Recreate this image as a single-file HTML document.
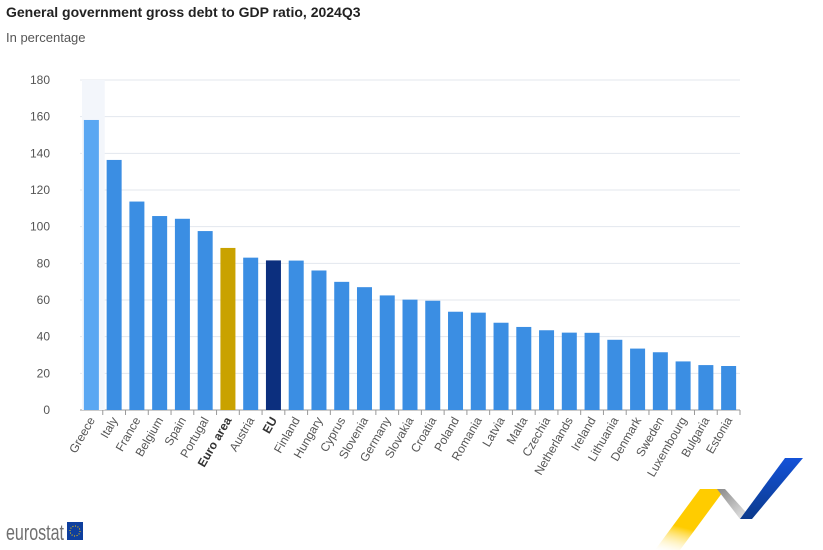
<!DOCTYPE html>
<html><head><meta charset="utf-8"><style>
body{margin:0;width:823px;height:550px;background:#fff;overflow:hidden;font-family:"Liberation Sans",sans-serif}
svg{position:absolute;left:0;top:0}
</style></head><body>
<svg width="823" height="550">
<defs><linearGradient id="yg" x1="0" y1="1" x2="0.3" y2="0"><stop offset="0" stop-color="#fff" stop-opacity="0.2"/><stop offset="0.45" stop-color="#ffcc00"/></linearGradient>
<linearGradient id="gg" x1="0" y1="0" x2="1" y2="1"><stop offset="0" stop-color="#888"/><stop offset="1" stop-color="#f0f0f0"/></linearGradient>
<linearGradient id="bg" x1="0" y1="1" x2="0" y2="0"><stop offset="0" stop-color="#0b3a8c"/><stop offset="1" stop-color="#1452d8"/></linearGradient></defs>
<text x="6" y="17" font-size="14" font-weight="bold" fill="#222">General government gross debt to GDP ratio, 2024Q3</text>
<text x="6" y="42" font-size="13" fill="#555">In percentage</text>
<g id="grid"></g><g id="bars"></g><g id="xl"></g>
<g>
<text x="6" y="540" font-size="22" fill="#707070" textLength="58" lengthAdjust="spacingAndGlyphs">eurostat</text>
<rect x="67" y="522" width="16" height="18" fill="#0e3f9e"/>
<circle cx="75" cy="531" r="5" fill="none" stroke="#ffcc00" stroke-width="1" stroke-dasharray="1 1.6"/>
</g>
<g>
<polygon points="700,489 725,489 680,550 655,550" fill="url(#yg)"/>
<polygon points="717,489 725,489 752,519 740,519" fill="url(#gg)"/>
<polygon points="740,519 752,519 803,458 785,458" fill="url(#bg)"/>
</g>
</svg>
<script>
const categories=["Greece","Italy","France","Belgium","Spain","Portugal","Euro area","Austria","EU","Finland","Hungary","Cyprus","Slovenia","Germany","Slovakia","Croatia","Poland","Romania","Latvia","Malta","Czechia","Netherlands","Ireland","Lithuania","Denmark","Sweden","Luxembourg","Bulgaria","Estonia"];
const values=[158.2,136.4,113.7,105.8,104.3,97.6,88.4,83.1,81.6,81.5,76.1,69.9,67.0,62.5,60.2,59.6,53.6,53.1,47.6,45.3,43.5,42.2,42.1,38.3,33.5,31.5,26.5,24.5,24.0];
const yTicks=[0,20,40,60,80,100,120,140,160,180];
const NS="http://www.w3.org/2000/svg";
const x0=80,x1=740,yb=410,yt=80,ymax=180;
const band=(x1-x0)/categories.length;
const y=v=>yb-(v/ymax)*(yb-yt);
const xc=i=>x0+band*(i+0.5);
function mk(t,a,p){const e=document.createElementNS(NS,t);for(const k in a)e.setAttribute(k,a[k]);p.appendChild(e);return e;}
const grid=document.getElementById('grid'),bars=document.getElementById('bars'),xl=document.getElementById('xl');
yTicks.forEach(v=>{
 const l=mk('line',{x1:x0,x2:x1,y1:y(v),y2:y(v),stroke:v===0?'#999':'#e3e7ee','stroke-width':1},grid);
 
 
 const t=mk('text',{x:50,y:y(v)+4,'font-size':12,fill:'#555','text-anchor':'end'},grid);
 t.textContent=v;
 
 
});
const hl=mk('rect',{x:x0+2,y:yt,width:band,height:yb-yt,fill:'#f3f6fb'},grid);


categories.forEach((c,i)=>{
 let col='#3b8ee3';
 if(i===0)col='#5aa7f2';
 if(c==='Euro area')col='#c9a200';
 if(c==='EU')col='#0c2f7e';
 const bw=15;
 const r=mk('rect',{x:xc(i)-bw/2,y:y(values[i]),width:bw,height:yb-y(values[i]),fill:col},bars);
 
 
 const tk=mk('line',{x1:xc(i)+band/2,x2:xc(i)+band/2,y1:yb,y2:yb+5,stroke:'#999'},xl);
 const t=mk('text',{transform:`translate(${xc(i)+4},${yb+10}) rotate(-60)`,'font-size':12,fill:'#555','text-anchor':'end'},xl);
 if(c==='Euro area'||c==='EU'){t.setAttribute('font-weight','bold');t.setAttribute('fill','#333');}
 t.textContent=c;
 
 
});
</script>
</body></html>
